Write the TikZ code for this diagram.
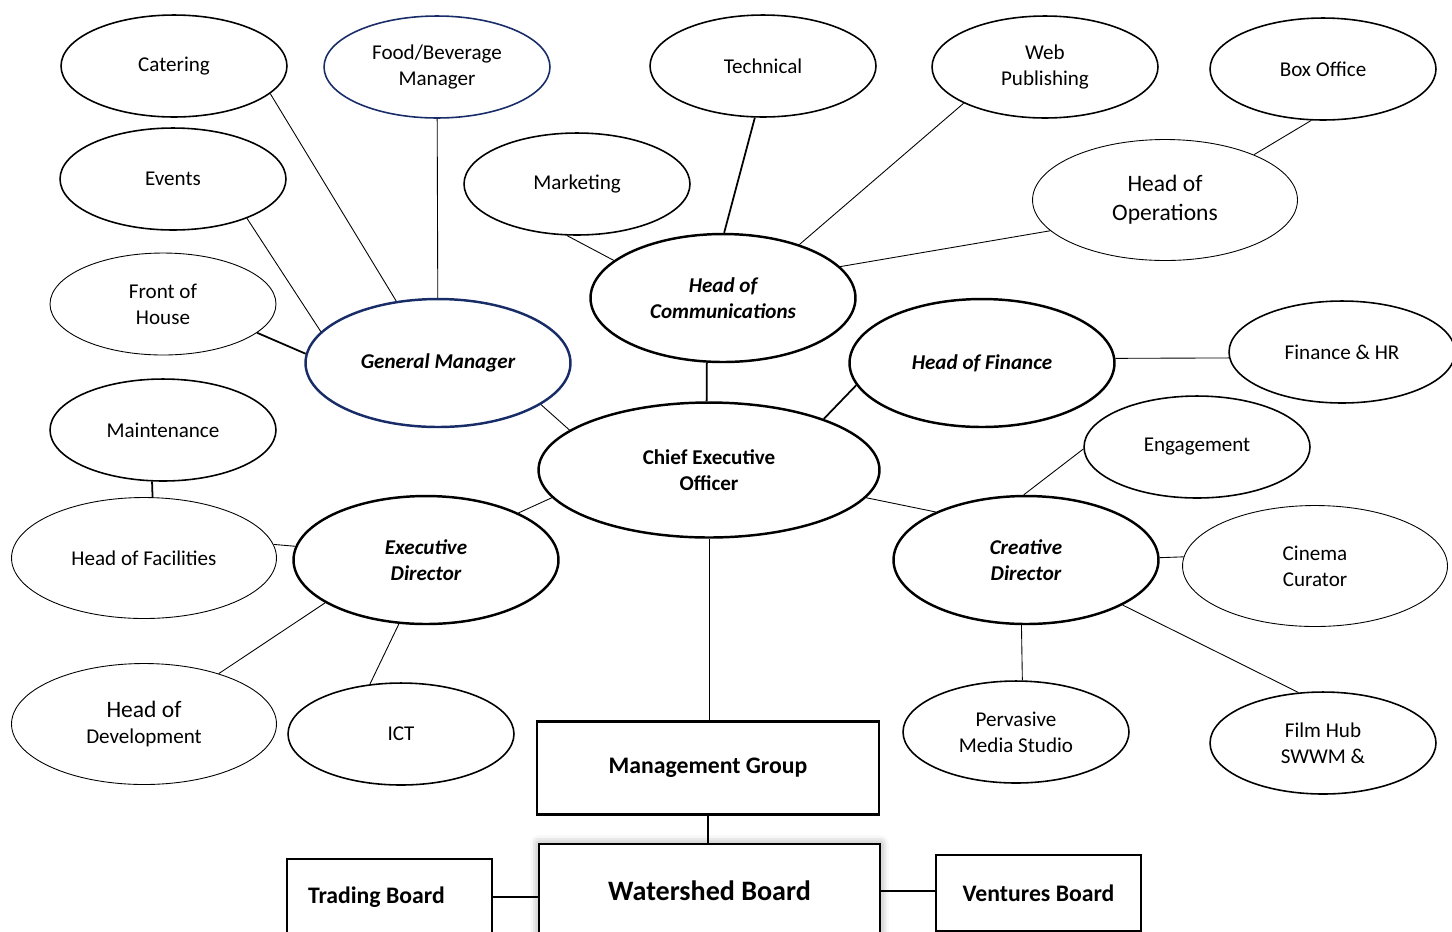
\documentclass[tikz,border=0pt]{standalone}
\usepackage{fontspec}
\setmainfont{Carlito}
\usetikzlibrary{shapes.geometric,shadows.blur}
\definecolor{navy}{RGB}{24,44,104}

\begin{document}
\begin{tikzpicture}[x=0.02cm,y=-0.02cm,
  unit/.style={draw,ellipse,line width=0.9pt,minimum width=4.52cm,minimum height=2.04cm,align=center,inner sep=0pt,font=\fontsize{12}{14.8}\selectfont},
  wide unit/.style={unit,line width=0.5pt,minimum width=5.3cm,minimum height=2.42cm},
  head/.style={unit,line width=1.4pt,minimum width=5.3cm,minimum height=2.56cm,font=\fontsize{12}{14.8}\selectfont\bfseries\itshape},
  board/.style={draw,fill=white,rectangle,line width=1.2pt,align=center,inner sep=0pt,font=\fontsize{13.5}{16}\selectfont\bfseries},
  link/.style={line width=0.5pt},
  heavy link/.style={line width=1pt}]
\useasboundingbox (0,0) rectangle (1452,931);
\clip (0,0) rectangle (1452,931);
% outer units
\node[unit] (cat) at (174,66) {Catering};
\node[unit,draw=navy] (fbm) at (437,67) {Food/Beverage\\Manager};
\node[unit] (tech) at (763,66) {Technical};
\node[unit] (web) at (1045,67) {Web\\Publishing};
\node[unit] (box) at (1323,69) {Box Office};
\node[unit] (evt) at (173,179) {Events};
\node[unit] (mkt) at (577,184) {Marketing};
\node[wide unit,font=\fontsize{13.4}{16.4}\selectfont] (ops) at (1165,200) {Head of\\Operations};
\node[unit,line width=0.5pt] (foh) at (163,304) {Front of\\House};
\node[unit] (fhr) at (1342,352) {Finance \& HR};
\node[unit] (mnt) at (163,430) {Maintenance};
\node[unit] (eng) at (1197,447) {Engagement};
\node[wide unit] (fac) at (144,558) {Head of Facilities};
\node[wide unit] (cin) at (1315,566) {Cinema\\Curator};
\node[wide unit] (dev) at (144,724) {{\fontsize{13.4}{15}\selectfont Head of}\\Development};
\node[unit] (ict) at (401,734) {ICT};
\node[unit] (pms) at (1016,732) {Pervasive\\Media Studio};
\node[unit] (fh) at (1323,743) {Film Hub\\SWWM \&};
% heads
\node[head] (hoc) at (723,298) {Head of\\Communications};
\node[head,draw=navy] (gm) at (438,363) {General Manager};
\node[head] (hof) at (982,363) {Head of Finance};
\node[head,minimum width=6.82cm,minimum height=2.7cm,font=\fontsize{12}{14.8}\selectfont\bfseries] (ceo) at (709,470) {Chief Executive\\Officer};
\node[head] (ed) at (426,560) {Executive\\Director};
\node[head] (cd) at (1026,560) {Creative\\Director};
% boards
\node[board,minimum width=6.84cm,minimum height=1.86cm] (mg) at (708,768) {Management Group};
\node[board,minimum width=6.82cm,minimum height=1.88cm,font=\fontsize{16}{19}\selectfont\bfseries,blur shadow={shadow xshift=0pt,shadow yshift=0pt,shadow blur radius=5pt,shadow opacity=45}] (wb) at (709.5,891) {Watershed Board};
\node[board,minimum height=1.52cm,text width=3.26cm,align=flush left,inner xsep=0.42cm] (tb) at (389.5,897) {Trading Board};
\node[board,minimum width=4.1cm,minimum height=1.52cm] (vb) at (1038.5,893) {Ventures Board};
% connectors
\draw[link] (cat.-16) -- (gm.124);
\draw[link] (fbm) -- (gm);
\draw[link] (evt.-28) -- (gm.165);
\draw[heavy link] (foh.-17) -- (gm.176);
\draw[link] (gm.-22) -- (ceo.164);
\draw[link] (mkt.-101) -- (hoc.161);
\draw[heavy link] (tech.-99) -- (hoc.89);
\draw[link] (web.-156) -- (hoc.35);
\draw[link] (ops.-165) -- (hoc.15);
\draw[link] (box.-103) -- (ops.27);
\draw[heavy link] (hoc.-104) -- (ceo.92);
\draw[heavy link] (hof.-170) -- (ceo.24);
\draw[link] (fhr.-177) -- (hof.2);
\draw[link] (eng.-179) -- (cd.92);
\draw[link] (ceo.-10) -- (cd.152);
\draw[link] (cin.176) -- (cd.1);
\draw[link] (cd.-94) -- (pms.83);
\draw[link] (cd.-25) -- (fh.116);
\draw[link] (ceo.-170) -- (ed.27);
\draw[heavy link] (mnt.-102) -- (fac.82);
\draw[link] (fac.6) -- (ed.174);
\draw[link] (ed.-157) -- (dev.34);
\draw[link] (ed.-113) -- (ict.122);
\draw[link] (mg.north -| ceo.south) -- (ceo.south);
\draw[heavy link] (mg.south) -- (mg.south |- wb.north);
\draw[heavy link] (tb.east) -- (tb.east -| wb.west);
\draw[heavy link] (wb.east) -- (wb.east -| vb.west);
\end{tikzpicture}
\end{document}
